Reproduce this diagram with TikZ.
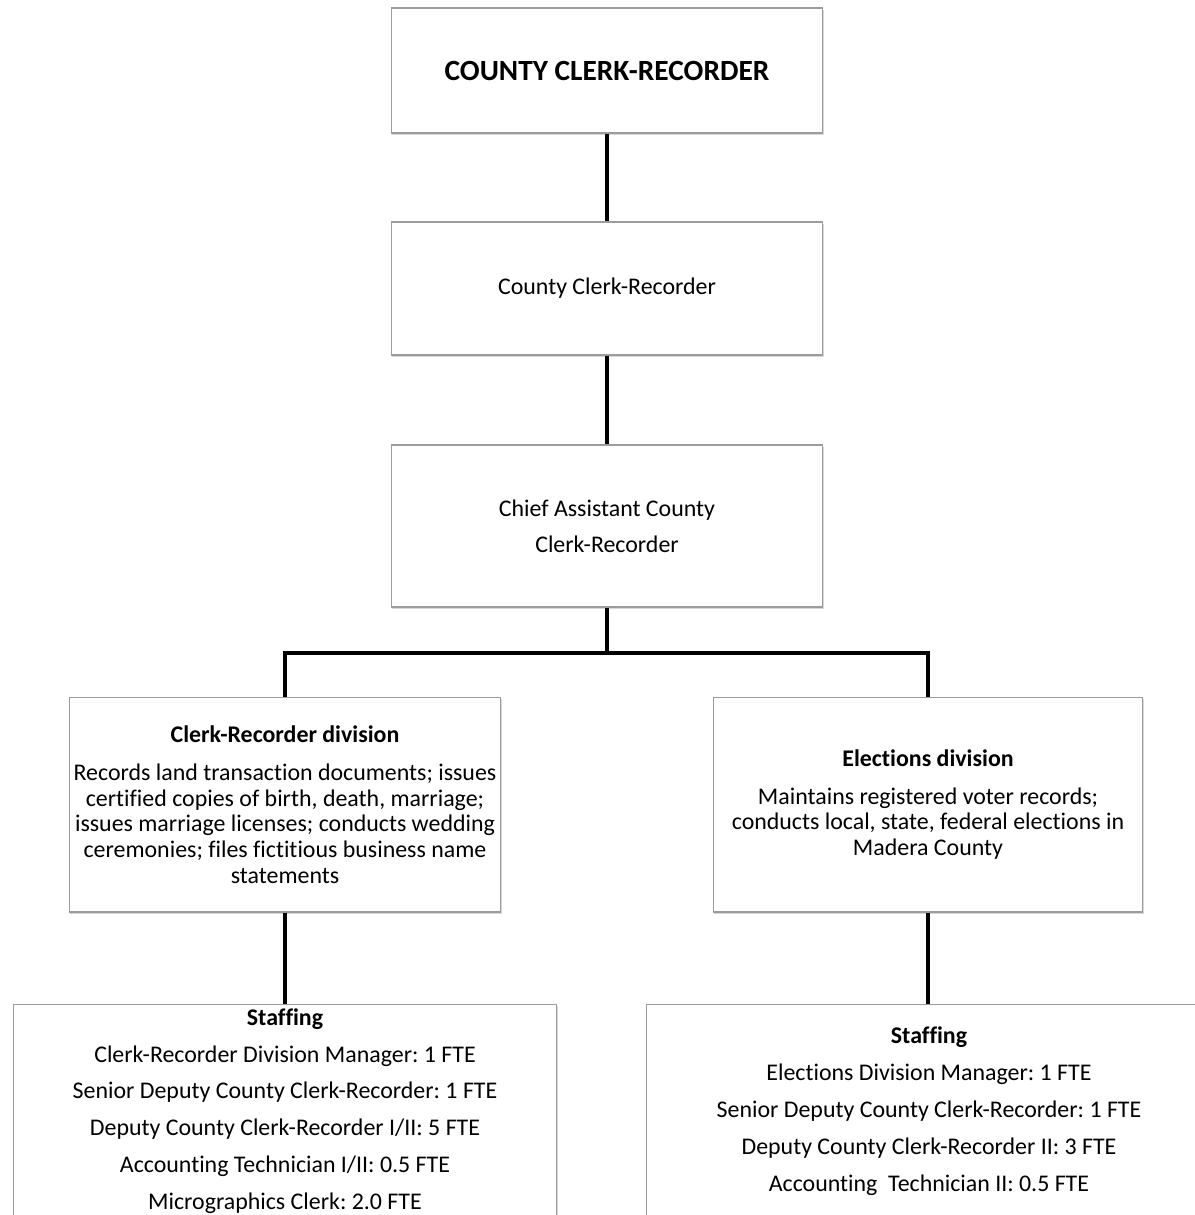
\documentclass[tikz,border=0pt]{standalone}
\usepackage{fontspec}
\setmainfont[Ligatures=NoCommon]{Carlito}
\usetikzlibrary{shadows}

\definecolor{boxgray}{HTML}{9C9C9C}

\tikzset{
  box/.style={draw=boxgray, fill=white, line width=0.6pt, align=center, inner sep=0pt,
    drop shadow={shadow xshift=0.8pt, shadow yshift=-1.4pt, opacity=0.3}},
  link/.style={line width=2.8pt},
  bodytext/.style={font=\fontsize{13.6}{14.6}\selectfont},
  listtext/.style={font=\fontsize{13.6}{21}\selectfont}
}

\begin{document}
\frenchspacing
\begin{tikzpicture}[x=0.02cm,y=-0.02cm]

	\useasboundingbox (0,0) rectangle (1195,1215);
	\fill[white] (0,0) rectangle (1195,1215);
	\clip (0,0) rectangle (1195,1215);

	\node[box, minimum width=8.64cm, minimum height=2.5cm,
	  font=\fontsize{16.7}{20}\selectfont\bfseries] (top) at (607,70.5) {COUNTY CLERK-RECORDER};
	\node[box, bodytext, minimum width=8.64cm, minimum height=2.66cm] (head) at (607,288.5) {County Clerk-Recorder};
	\node[box, font=\fontsize{13.6}{20.5}\selectfont, minimum width=8.64cm, minimum height=3.24cm] (chief) at (607,526) {Chief Assistant County\\Clerk-Recorder};

	\node[box, bodytext, minimum width=8.64cm, minimum height=4.3cm] (crdiv) at (285,804.5)
	  {\textbf{Clerk-Recorder division}\\[7pt]
	   Records land transaction documents; issues\\
	   certified copies of birth, death, marriage;\\
	   issues marriage licenses; conducts wedding\\
	   ceremonies; files fictitious business name\\
	   statements};
	\node[box, bodytext, minimum width=8.6cm, minimum height=4.3cm] (eldiv) at (928,804.5)
	  {\textbf{Elections division}\\[7pt]
	   Maintains registered voter records;\\
	   conducts local, state, federal elections in\\
	   Madera County};

	\node[box, listtext, minimum width=10.88cm, minimum height=4.28cm] (crstaff) at (285,1111)
	  {\textbf{Staffing}\\
	   Clerk-Recorder Division Manager: 1 FTE\\
	   Senior Deputy County Clerk-Recorder: 1 FTE\\
	   Deputy County Clerk-Recorder I/II: 5 FTE\\
	   Accounting Technician I/II: 0.5 FTE\\
	   Micrographics Clerk: 2.0 FTE};
	\node[box, listtext, minimum width=11.32cm, minimum height=4.28cm] (elstaff) at (929,1111)
	  {\textbf{Staffing}\\
	   Elections Division Manager: 1 FTE\\
	   Senior Deputy County Clerk-Recorder: 1 FTE\\
	   Deputy County Clerk-Recorder II: 3 FTE\\
	   Accounting\ \ Technician II: 0.5 FTE};

	\coordinate (split) at (607,653);
	\draw[link] (top) -- (head);
	\draw[link] (head) -- (chief);
	\draw[link] (chief) -- (split);
	\draw[link] (crdiv.north) |- (split) -| (eldiv.north);
	\draw[link] (crdiv.south) -- (crdiv.south |- crstaff.north);
	\draw[link] (eldiv.south) -- (eldiv.south |- elstaff.north);

\end{tikzpicture}
\end{document}
